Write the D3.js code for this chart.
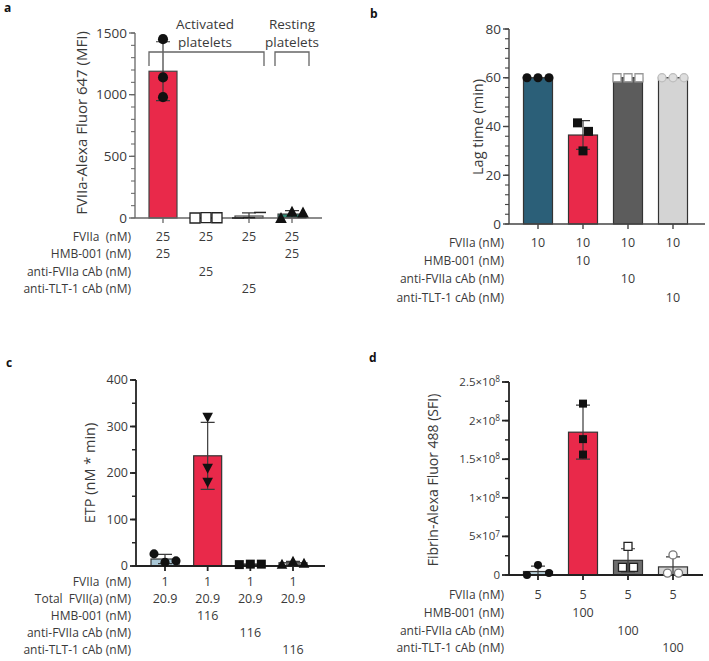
<!DOCTYPE html>
<html><head><meta charset="utf-8">
<script src="https://cdn.jsdelivr.net/npm/d3@7"></script>
<style>
html,body{margin:0;padding:0;background:#fff;}
text{font-family:"Open Sans",sans-serif;fill:#3a3a3a;white-space:pre;}
</style></head>
<body><svg id="chart" width="709" height="661"></svg>
<script>
// ---------- DATA ----------
// Panel a
const aMeans = [1190, 2, 16, 32];
const aSDs = [239, 2, 25, 28];
const aPoints = [[1450, 1140, 980], [0, 3, 2], [0, 3, 45], [0, 50, 45]];
const aTicks = [0, 500, 1000, 1500];
const aRowLabels = ["FVIIa  (nM)", "HMB-001 (nM)", "anti-FVIIa cAb (nM)", "anti-TLT-1 cAb (nM)"];
const aRowValues = [["25","25","25","25"], ["25","","","25"], ["","25","",""], ["","","25",""]];
const aGroups = [["Activated", "platelets"], ["Resting", "platelets"]];
const aYLabel = "FVIIa-Alexa Fluor 647 (MFI)";

// Panel b
const bMeans = [60, 36.5, 60, 60];
const bSDs = [0, 5.9, 0, 0];
const bPoints = [[60, 60, 60], [41.5, 38, 30], [60, 60, 60], [60, 60, 60]];
const bTicks = [0, 20, 40, 60, 80];
const bRowLabels = ["FVIIa (nM)", "HMB-001 (nM)", "anti-FVIIa cAb (nM)", "anti-TLT-1 cAb (nM)"];
const bRowValues = [["10","10","10","10"], ["","10","",""], ["","","10",""], ["","","","10"]];
const bYLabel = "Lag time (min)";

// Panel c
const cMeans = [15, 237, 3.5, 7];
const cSDs = [10, 72, 0.6, 3];
const cPoints = [[26, 8, 11], [320, 210, 180], [3, 4, 4], [4, 10, 6]];
const cTicks = [0, 100, 200, 300, 400];
const cRowLabels = ["FVIIa  (nM)", "Total  FVII(a) (nM)", "HMB-001 (nM)", "anti-FVIIa cAb (nM)", "anti-TLT-1 cAb (nM)"];
const cRowValues = [["1","1","1","1"], ["20.9","20.9","20.9","20.9"], ["","116","",""], ["","","116",""], ["","","","116"]];
const cYLabel = "ETP (nM * min)";

// Panel d
const dMeans = [4.5e6, 1.85e8, 1.9e7, 1.05e7];
const dSDs = [7e6, 3.5e7, 1.5e7, 1.3e7];
const dPoints = [[0, 1.3e7, 2.5e6], [2.22e8, 1.76e8, 1.56e8], [3.7e7, 1.0e7, 1.0e7], [2.6e7, 2.5e6, 2.5e6]];
const dTicks = [0, 5e7, 1e8, 1.5e8, 2e8, 2.5e8];
const dTickLabels = ["0", "5×10^7", "1×10^8", "1.5×10^8", "2×10^8", "2.5×10^8"];
const dRowLabels = ["FVIIa (nM)", "HMB-001 (nM)", "anti-FVIIa cAb (nM)", "anti-TLT-1 cAb (nM)"];
const dRowValues = [["5","5","5","5"], ["","100","",""], ["","","100",""], ["","","","100"]];
const dYLabel = "Fibrin-Alexa Fluor 488 (SFI)";

// ---------- DRAWING ----------
const svg = d3.select("#chart");
const RED = "#e9294a";

function markerPath(shape, s) {
  const h = s / 2;
  if (shape === "square") return `M${-h},${-h}h${s}v${s}h${-s}z`;
  if (shape === "triUp") return `M0,${-h - 1}L${h + 0.8},${h}L${-h - 0.8},${h}z`;
  if (shape === "triDown") return `M0,${h + 1}L${h + 0.8},${-h}L${-h - 0.8},${-h}z`;
  if (shape === "dash") return `M${-h - 1},0H${h + 1}`;
  return d3.symbol(d3.symbolCircle, s * s * 0.8)();
}

function swarm(vals, y, thr, d) {
  const order = vals.map((v, i) => i).sort((i, j) => y(vals[i]) - y(vals[j]));
  const clusters = [];
  let cur = [order[0]];
  for (let k = 1; k < order.length; k++) {
    if (Math.abs(y(vals[order[k]]) - y(vals[order[k - 1]])) < thr) cur.push(order[k]);
    else { clusters.push(cur); cur = [order[k]]; }
  }
  clusters.push(cur);
  const off = new Array(vals.length).fill(0);
  clusters.forEach(c => {
    c.sort((a, b) => a - b);
    c.forEach((idx, k) => { off[idx] = (k - (c.length - 1) / 2) * d; });
  });
  return off;
}

function panel(o) {
  const g = svg.append("g");
  const x = d3.scalePoint().domain(d3.range(o.means.length)).range(o.xr);
  const y = d3.scaleLinear().domain(o.ydom).range(o.yr);
  g.append("text").attr("x", o.letter[1]).attr("y", o.letter[2]).text(o.letter[0])
    .style("font-weight", "bold").style("font-size", "12px").style("fill", "#111");
  g.selectAll("rect.bar").data(o.means).join("rect")
    .attr("x", (d, i) => x(i) - o.bw / 2).attr("width", o.bw)
    .attr("y", d => y(d)).attr("height", d => y(0) - y(d))
    .attr("fill", (d, i) => o.colors[i]).attr("stroke", o.barStroke).attr("stroke-width", 1.2);
  o.means.forEach((m, i) => {
    if (o.sds[i] <= 0) return;
    const top = y(m + o.sds[i]), bot = y(Math.max(0, m - o.sds[i]));
    const cx = x(i);
    g.append("path").attr("d", `M${cx},${top}V${bot}M${cx - 7},${top}H${cx + 7}M${cx - 7},${bot}H${cx + 7}`)
      .attr("stroke", "#3a3a3a").attr("stroke-width", 1.2).attr("fill", "none");
  });
  const ax = o.axisColor, x0 = o.axisX;
  g.append("path").attr("d", `M${x0},${y(o.ydom[1])}V${y(0)}`).attr("stroke", ax).attr("stroke-width", o.axisW);
  d3.range(0, o.ydom[1] + o.minor / 2, o.minor).forEach(v => {
    g.append("line").attr("x1", x0 - 4).attr("x2", x0).attr("y1", y(v)).attr("y2", y(v))
      .attr("stroke", ax).attr("stroke-width", o.axisW * 0.8);
  });
  o.ticks.forEach((v, k) => {
    g.append("line").attr("x1", x0 - o.tickLen).attr("x2", x0).attr("y1", y(v)).attr("y2", y(v))
      .attr("stroke", ax).attr("stroke-width", o.axisW);
    const lab = o.tickLabels ? o.tickLabels[k] : String(v);
    const t = g.append("text").attr("x", x0 - o.tickLen - 2).attr("y", y(v)).attr("dy", "0.35em")
      .attr("text-anchor", "end").style("font-size", o.tickFont + "px");
    if (lab.includes("^")) {
      const [base, exp] = lab.split("^");
      t.append("tspan").text(base);
      t.append("tspan").text(exp).attr("dy", "-0.45em").style("font-size", (o.tickFont * 0.72) + "px");
    } else t.text(lab);
  });
  g.append("path").attr("d", `M${x0},${y(0)}H${o.xEnd}`).attr("stroke", ax).attr("stroke-width", o.axisW);
  o.means.forEach((m, i) => {
    g.append("line").attr("x1", x(i)).attr("x2", x(i)).attr("y1", y(0)).attr("y2", y(0) + 5)
      .attr("stroke", ax).attr("stroke-width", o.axisW);
  });
  o.points.forEach((vals, i) => {
    const off = swarm(vals, y, 9, 11);
    const sh = o.shapes[i];
    vals.forEach((v, k) => {
      const p = g.append("path").attr("d", markerPath(sh.shape, sh.size || o.ms))
        .attr("transform", `translate(${x(i) + off[k]},${y(v)})`);
      if (sh.shape === "dash") p.attr("fill", "none").attr("stroke", "#222").attr("stroke-width", 1.5);
      else if (sh.open) p.attr("fill", sh.fill || "#fff").attr("stroke", sh.stroke || "#222").attr("stroke-width", 1.3);
      else p.attr("fill", "#111");
    });
  });
  g.append("text").attr("transform", `translate(${o.yl[0]},${o.yl[1]}) rotate(-90)`)
    .attr("text-anchor", "middle").attr("dy", "0.35em").style("font-size", o.ylFont + "px").text(o.ylabel);
  o.rowLabels.forEach((lab, r) => {
    const ty = o.rowY[r];
    g.append("text").attr("x", o.labelX).attr("y", ty).attr("dy", "0.35em").attr("text-anchor", "end")
      .style("font-size", "12px").text(lab);
    o.rowValues[r].forEach((v, i) => {
      if (!v) return;
      g.append("text").attr("x", x(i)).attr("y", ty).attr("dy", "0.35em").attr("text-anchor", "middle")
        .style("font-size", "12.5px").text(v);
    });
  });
  return { g, x, y };
}

// Panel a
const pa = panel({
  letter: ["a", 4, 12], means: aMeans, sds: aSDs, points: aPoints,
  xr: [163, 292], bw: 28, ydom: [0, 1500], yr: [218, 33], ticks: aTicks, minor: 100,
  colors: [RED, "#fff", "#fff", "#2f8f78"], barStroke: "#444",
  axisColor: "#666", axisW: 1.3, axisX: 135, xEnd: 322, tickLen: 6, tickFont: 13.5,
  shapes: [{shape: "circle"}, {shape: "square", open: true}, {shape: "dash"}, {shape: "triUp"}],
  ms: 10, yl: [82, 123], ylabel: aYLabel, ylFont: 15,
  rowLabels: aRowLabels, rowValues: aRowValues, rowY: [237, 254, 272, 289], labelX: 131
});
pa.g.append("path").attr("d", "M149,66V52H264V66").attr("fill", "none").attr("stroke", "#666").attr("stroke-width", 1.3);
pa.g.append("path").attr("d", "M275,66V52H309V66").attr("fill", "none").attr("stroke", "#666").attr("stroke-width", 1.3);
[[205, aGroups[0]], [292, aGroups[1]]].forEach(([cx, lines]) => {
  lines.forEach((l, k) => {
    pa.g.append("text").attr("x", cx).attr("y", 24 + k * 18).attr("dy", "0.35em").attr("text-anchor", "middle")
      .style("font-size", "13.5px").text(l);
  });
});

// Panel b
panel({
  letter: ["b", 370, 18], means: bMeans, sds: bSDs, points: bPoints,
  xr: [538, 673], bw: 29, ydom: [0, 80], yr: [224, 29], ticks: bTicks, minor: 4,
  colors: ["#2b5f78", RED, "#5c5c5c", "#d4d4d4"], barStroke: "#333",
  axisColor: "#444", axisW: 1.4, axisX: 509, xEnd: 705, tickLen: 6, tickFont: 13.5,
  shapes: [{shape: "circle"}, {shape: "square"}, {shape: "square", open: true, stroke: "#999", size: 8},
           {shape: "circle", open: true, stroke: "#bdbdbd", fill: "#dedede", size: 8}],
  ms: 9, yl: [478, 127], ylabel: bYLabel, ylFont: 14.5,
  rowLabels: bRowLabels, rowValues: bRowValues, rowY: [243, 261, 279, 298], labelX: 504
});

// Panel c
panel({
  letter: ["c", 6, 367], means: cMeans, sds: cSDs, points: cPoints,
  xr: [165, 293], bw: 28, ydom: [0, 400], yr: [566, 380], ticks: cTicks, minor: 50,
  colors: ["#a9c7d6", RED, "#fff", "#d6d6d6"], barStroke: "#333",
  axisColor: "#222", axisW: 1.8, axisX: 136, xEnd: 325, tickLen: 6, tickFont: 12.5,
  shapes: [{shape: "circle"}, {shape: "triDown"}, {shape: "square"}, {shape: "triUp"}],
  ms: 9, yl: [90, 473], ylabel: cYLabel, ylFont: 14.5,
  rowLabels: cRowLabels, rowValues: cRowValues, rowY: [582, 599, 616, 633, 650], labelX: 131
});

// Panel d
panel({
  letter: ["d", 369, 362], means: dMeans, sds: dSDs, points: dPoints,
  xr: [538, 673], bw: 29, ydom: [0, 2.5e8], yr: [575, 382], ticks: dTicks, tickLabels: dTickLabels, minor: 2.5e7,
  colors: ["#b8cfd9", RED, "#6e6e6e", "#d3d3d3"], barStroke: "#333",
  axisColor: "#222", axisW: 1.8, axisX: 509, xEnd: 703, tickLen: 7, tickFont: 11.5,
  shapes: [{shape: "circle"}, {shape: "square"}, {shape: "square", open: true}, {shape: "circle", open: true, stroke: "#777"}],
  ms: 8, yl: [433, 480], ylabel: dYLabel, ylFont: 14,
  rowLabels: dRowLabels, rowValues: dRowValues, rowY: [595, 613, 631, 648], labelX: 504
});
</script></body></html>
